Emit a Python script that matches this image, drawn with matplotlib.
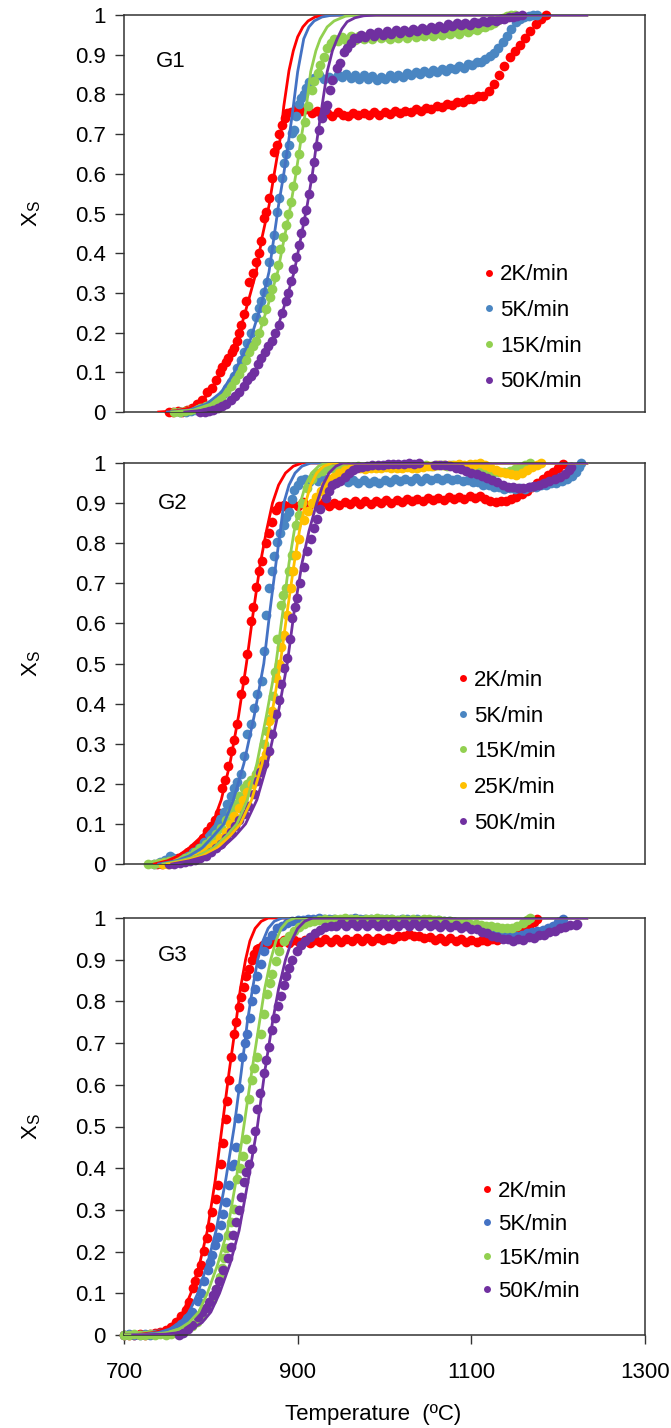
import numpy as np
import matplotlib
matplotlib.use("Agg")
import matplotlib.pyplot as plt
from matplotlib.lines import Line2D

plt.rcParams['font.family'] = ['Liberation Sans', 'DejaVu Sans']
plt.rcParams['mathtext.fontset'] = 'custom'
plt.rcParams['mathtext.rm'] = 'Liberation Sans'
plt.rcParams['mathtext.it'] = 'Liberation Sans:italic'
plt.rcParams['mathtext.default'] = 'regular'

# ---------------- data ----------------
rate_labels_4 = ['2K/min', '5K/min', '15K/min', '50K/min']
rate_labels_5 = ['2K/min', '5K/min', '15K/min', '25K/min', '50K/min']
panel_names = ['G1', 'G2', 'G3']
y_tick_labels = ['0', '0.1', '0.2', '0.3', '0.4', '0.5', '0.6', '0.7', '0.8', '0.9', '1']
x_ticks = [700, 900, 1100, 1300]

# ---- G1 experimental (T, Xs)
g1_red = [(752,0.0),(757,0.0),(762,0.003),(767,0.0),(772,0.005),(778,0.01),(784,0.02),(790,0.03),(796,0.05),(801,0.06),
          (806,0.08),(810,0.1),(813,0.114),(817,0.125),(820,0.135),(824,0.15),(827,0.16),(830,0.18),(832.5,0.198),(835,0.22),
          (838,0.248),(841,0.28),(844,0.328),(848,0.35),(852,0.379),(855.5,0.40),(858,0.43),(861,0.488),(863,0.504),(867,0.54),
          (871,0.589),(873,0.656),(876.5,0.673),(879,0.70),(882,0.723),(885,0.74),(888,0.752),
          (892,0.755),(898,0.763),(904,0.758),(910,0.762),(916,0.752),(922,0.758),(928,0.748),(934,0.754),(940,0.746),(946,0.755),
          (952,0.749),(958,0.745),(964,0.752),(970,0.748),(976,0.753),(982,0.747),(988,0.755),(994,0.748),(1000,0.756),(1006,0.750),
          (1012,0.757),(1018,0.753),(1024,0.759),(1030,0.755),(1036,0.762),(1042,0.758),(1048,0.766),(1054,0.762),(1060,0.770),
          (1066,0.768),(1072,0.776),(1078,0.774),(1084,0.782),(1090,0.780),(1096,0.789),(1102,0.788),(1108,0.796),(1114,0.797),
          (1120,0.808),(1126,0.825),(1132,0.848),(1138,0.872),(1144,0.893),(1150,0.91),(1156,0.925),(1162,0.943),(1168,0.96),
          (1174,0.978),(1180,0.99),(1186,1.0)]
g1_blue = [(765,0.0),(771,0.0),(777,0.003),(783,0.005),(790,0.01),(796,0.015),(802,0.02),(808,0.03),(814,0.045),(819,0.06),
           (823,0.075),(827,0.09),(830.6,0.11),(834.5,0.131),(838,0.15),(842,0.175),(846,0.2),(851.7,0.24),(855.5,0.261),(858,0.28),
           (861.3,0.303),(865.1,0.328),(867,0.379),(870,0.41),(872.7,0.446),(876.6,0.505),(879,0.54),(882.3,0.589),(884.2,0.626),
           (887,0.65),(890,0.673),(893.8,0.702),(895.7,0.71),(898,0.745),(901.5,0.777),(904,0.79),(907.2,0.802),(910,0.815),
           (913,0.832),(918.7,0.842),(924,0.848),(930,0.840),
           (936,0.845),(941,0.838),(946,0.850),(951,0.844),(956,0.851),(961,0.842),(966,0.849),(971,0.840),(976,0.848),(981,0.839),
           (986,0.846),(991,0.837),(996,0.845),(1001,0.839),(1006,0.848),(1011,0.842),(1016,0.850),(1021,0.845),(1026,0.853),
           (1031,0.848),(1036,0.856),(1041,0.851),(1046,0.859),(1051,0.854),(1056,0.861),(1061,0.856),(1066,0.864),(1071,0.859),
           (1076,0.867),(1081,0.863),(1086,0.871),(1091,0.867),(1096,0.876),(1101,0.873),(1106,0.882),(1111,0.881),(1116,0.890),
           (1121,0.896),(1126,0.905),(1131,0.918),(1136,0.932),(1141,0.948),(1146,0.965),(1151,0.982),(1156,0.99),(1161,0.996),
           (1166,0.998),(1171,1.0),(1176,1.0)]
g1_green = [(758,0.0),(764,0.0),(770,0.003),(776,0.005),(782,0.008),(788,0.01),(794,0.015),(800,0.02),(806,0.025),(812,0.035),
            (818,0.05),(823,0.065),(828,0.08),(832,0.095),(836,0.11),(840,0.13),(844,0.15),(848,0.165),(852,0.18),(856,0.2),
            (860,0.23),(864,0.26),(868,0.29),(871,0.31),(874,0.34),(877,0.37),(880,0.41),(883,0.44),(886,0.47),(889,0.50),
            (892,0.53),(895,0.57),(898,0.61),(901,0.65),(904,0.69),(908,0.73),(912,0.77),(916,0.81),(919,0.835),(923,0.855),
            (926,0.874),(930,0.895),(934,0.916),(938,0.93),(942,0.94),
            (946,0.934),(951,0.944),(956,0.936),(961,0.946),(966,0.938),(971,0.947),(976,0.939),(981,0.948),(986,0.940),(991,0.949),
            (996,0.941),(1001,0.947),(1006,0.940),(1011,0.950),(1016,0.942),(1021,0.951),(1026,0.943),(1031,0.952),(1036,0.945),
            (1041,0.953),(1046,0.946),(1051,0.954),(1056,0.947),(1061,0.955),(1066,0.949),(1071,0.957),(1076,0.951),(1081,0.959),
            (1086,0.953),(1091,0.961),(1096,0.957),(1101,0.964),(1106,0.962),(1111,0.969),(1116,0.970),(1121,0.976),(1126,0.98),
            (1131,0.987),(1136,0.993),(1141,0.997),(1146,1.0),(1150,1.0)]
g1_purple = [(788,0.0),(793,0.0),(798,0.003),(803,0.005),(808,0.01),(813,0.015),(818,0.02),(823,0.03),(828,0.04),(833,0.05),
             (838,0.065),(842,0.08),(846,0.09),(850,0.10),(854,0.12),(858,0.135),(862,0.15),(866,0.165),(870,0.18),(874,0.2),
             (878,0.22),(882,0.25),(886,0.28),(889,0.30),(892,0.33),(895,0.36),(898,0.39),(901,0.42),(904,0.45),(907,0.48),
             (910,0.51),(913,0.55),(916,0.59),(919,0.63),(922,0.67),(925,0.71),(928,0.74),(931,0.76),(934,0.773),(937,0.81),
             (940,0.836),(945,0.866),(949,0.878),(953,0.907),(957,0.916),(961,0.93),(965,0.941),(969,0.941),
             (973,0.950),(978,0.944),(983,0.954),(988,0.947),(993,0.957),(998,0.950),(1003,0.959),(1008,0.952),(1013,0.961),
             (1018,0.954),(1023,0.963),(1028,0.956),(1033,0.965),(1038,0.959),(1043,0.968),(1048,0.962),(1053,0.970),(1058,0.965),
             (1063,0.973),(1068,0.968),(1073,0.977),(1078,0.972),(1083,0.979),(1088,0.974),(1093,0.981),(1098,0.976),(1103,0.983),
             (1108,0.979),(1113,0.986),(1118,0.982),(1123,0.988),(1128,0.985),(1133,0.991),(1138,0.989),(1143,0.995),(1148,0.994),
             (1153,0.998),(1158,1.0)]

# ---- G1 model curves (T, Xs)
g1_red_fit = [(740,0),(760,0.003),(775,0.01),(790,0.03),(800,0.05),(811,0.10),(820,0.14),(831,0.185),(842,0.27),(852,0.35),
              (859,0.44),(867,0.52),(873,0.6),(880,0.69),(884,0.77),(890,0.86),(895,0.91),(900,0.945),(906,0.97),(912,0.985),
              (920,0.995),(930,0.999),(945,1.0),(1233,1.0)]
g1_blue_fit = [(750,0),(775,0.005),(795,0.02),(812,0.05),(827,0.10),(846,0.185),(858,0.27),(867,0.353),(878,0.521),(884,0.6),
               (890,0.689),(895,0.77),(900,0.857),(907,0.94),(913,0.97),(919,0.985),(928,0.995),(938,0.999),(955,1.0),(1233,1.0)]
g1_green_fit = [(755,0),(780,0.005),(800,0.02),(818,0.05),(834,0.10),(854,0.185),(866,0.27),(877,0.353),(892,0.521),(898,0.6),
                (904,0.689),(910,0.77),(915,0.857),(921,0.91),(926,0.94),(934,0.97),(942,0.985),(955,0.997),(970,1.0),(1233,1.0)]
g1_purple_fit = [(770,0),(795,0.005),(815,0.02),(833,0.05),(850,0.10),(873,0.185),(885,0.27),(896,0.353),(911,0.521),(917,0.6),
                 (922.5,0.689),(928,0.77),(934,0.857),(940,0.91),(945.5,0.94),(951,0.965),(957,0.983),(966,0.993),(976,0.998),
                 (990,1.0),(1233,1.0)]

# ---- G2 experimental
g2_red = [(738,0.0),(744,0.0),(750,0.005),(756,0.01),(762,0.015),(768,0.02),(774,0.03),(780,0.04),(786,0.05),(791,0.065),
          (796,0.083),(800,0.095),(805,0.11),(809.6,0.128),(813.4,0.19),(816,0.21),(819.2,0.245),(823,0.282),(827,0.31),
          (830.6,0.348),(834.5,0.423),(838,0.46),(842.2,0.523),(846,0.606),(849,0.64),(852,0.69),(855.6,0.73),(859.4,0.755),
          (863.3,0.80),(867.1,0.825),(870.9,0.854),(874.8,0.883),(879,0.892),(884,0.896),
          (888,0.891),(894,0.900),(900,0.894),(906,0.902),(912,0.893),(918,0.901),(924,0.895),(930,0.902),(936,0.893),(942,0.901),
          (948,0.896),(954,0.903),(960,0.897),(966,0.904),(972,0.898),(978,0.905),(984,0.899),(990,0.906),(996,0.900),(1002,0.907),
          (1008,0.901),(1014,0.908),(1020,0.903),(1026,0.909),(1032,0.904),(1038,0.911),(1044,0.905),(1050,0.912),(1056,0.907),
          (1062,0.913),(1068,0.908),(1074,0.915),(1080,0.910),(1086,0.916),(1092,0.911),(1098,0.918),(1104,0.912),(1110,0.917),
          (1116,0.910),(1122,0.906),(1128,0.903),(1134,0.906),(1140,0.904),(1146,0.91),(1152,0.916),(1158,0.922),(1164,0.93),
          (1170,0.94),(1176,0.95),(1182,0.96),(1188,0.97),(1194,0.978),(1200,0.988),(1206,0.998)]
g2_blue = [(735,0.0),(741,0.005),(747,0.01),(753,0.02),(757,0.015),(762,0.01),(768,0.015),(774,0.02),(780,0.03),(786,0.04),
           (792,0.055),(798,0.075),(803.8,0.091),(807,0.1),(811,0.112),(815,0.13),(819,0.149),(823,0.17),(826.7,0.19),(830,0.205),
           (834.5,0.224),(838,0.27),(842.2,0.323),(846,0.348),(849.9,0.39),(853.7,0.423),(859.4,0.456),(861,0.53),(863.3,0.622),
           (867.1,0.688),(870,0.73),(872.9,0.767),(876.7,0.804),(880,0.825),(884.4,0.846),(887,0.865),(890.1,0.879),(893,0.91),
           (895.9,0.933),(900,0.945),(903.5,0.957),(908,0.96),
           (913,0.952),(918,0.963),(923,0.955),(928,0.962),(934,0.951),(940,0.961),(946,0.954),(952,0.960),(958,0.952),(964,0.958),
           (970,0.951),(976,0.957),(982,0.950),(988,0.956),(994,0.950),(1000,0.957),(1006,0.952),(1012,0.960),(1018,0.954),
           (1024,0.961),(1030,0.955),(1036,0.962),(1042,0.956),(1048,0.962),(1054,0.957),(1060,0.963),(1066,0.957),(1072,0.962),
           (1078,0.957),(1084,0.961),(1090,0.955),(1096,0.958),(1102,0.952),(1108,0.952),(1114,0.946),(1120,0.944),(1126,0.940),
           (1132,0.941),(1138,0.936),(1144,0.938),(1150,0.934),(1156,0.938),(1162,0.936),(1168,0.941),(1174,0.940),(1180,0.945),
           (1186,0.944),(1192,0.950),(1198,0.950),(1204,0.956),(1210,0.96),(1216,0.968),(1220,0.978),(1224,0.99),(1226,1.0)]
g2_green = [(728,0.0),(734,0.0),(740,0.003),(746,0.005),(752,0.008),(758,0.01),(764,0.01),(770,0.015),(776,0.02),(782,0.03),
            (788,0.04),(794,0.05),(800,0.06),(806,0.075),(812,0.09),(818,0.11),(823,0.13),(828,0.15),(833,0.17),(838,0.19),
            (842,0.2),(846,0.21),(851.7,0.224),(857.4,0.249),(861.3,0.299),(865.1,0.332),(868.9,0.365),(872,0.42),(874,0.48),
            (876.5,0.56),(880.4,0.647),(883,0.67),(886.1,0.688),(890,0.73),(893.8,0.771),(897.6,0.846),(901,0.87),(905,0.9),
            (911,0.937),(916,0.96),(922,0.975),
            (928,0.98),(934,0.985),(940,0.987),(946,0.99),(952,0.988),(958,0.991),(964,0.99),(970,0.992),(976,0.99),(982,0.991),
            (988,0.993),(994,0.99),(1000,0.992),(1006,0.99),(1012,0.993),(1018,0.991),(1024,0.994),(1030,0.992),(1036,0.99),
            (1042,0.993),(1048,0.995),(1054,0.992),(1060,0.994),(1066,0.996),(1072,0.993),(1078,0.995),(1084,0.993),(1090,0.99),
            (1096,0.988),(1102,0.986),(1108,0.984),(1114,0.982),(1120,0.98),(1126,0.978),(1132,0.977),(1138,0.978),(1144,0.98),
            (1150,0.985),(1156,0.99),(1162,0.996),(1168,1.0)]
g2_yellow = [(745,0.0),(751,0.0),(757,0.003),(763,0.005),(769,0.008),(775,0.01),(781,0.015),(787,0.02),(793,0.03),(799,0.04),
             (805,0.05),(811,0.065),(817,0.08),(822,0.1),(827,0.12),(832,0.14),(837,0.16),(842,0.18),(847,0.2),(852,0.22),
             (856,0.24),(860,0.26),(863.2,0.274),(867.1,0.357),(870.9,0.381),(874.8,0.464),(878,0.5),(881,0.54),(884.4,0.572),
             (888,0.62),(892,0.688),(895,0.73),(897.6,0.771),(902,0.81),(907.2,0.858),(912,0.88),(916.8,0.9),(921,0.915),
             (926.4,0.929),(931,0.945),(936,0.96),
             (942,0.965),(948,0.975),(954,0.982),(960,0.985),(966,0.987),(972,0.988),(978,0.986),(984,0.987),(990,0.988),
             (996,0.987),(1002,0.989),(1008,0.988),(1014,0.987),(1020,0.988),(1026,0.99),(1032,0.988),(1038,0.987),(1044,0.99),
             (1050,0.992),(1056,0.993),(1062,0.995),(1068,0.994),(1074,0.996),(1080,0.995),(1086,0.997),(1092,0.996),(1098,0.998),
             (1104,0.997),(1110,0.999),(1116,0.995),(1122,0.99),(1128,0.983),(1134,0.978),(1140,0.975),(1146,0.972),(1152,0.97),
             (1158,0.975),(1164,0.982),(1170,0.99),(1176,0.996),(1180,1.0)]
g2_purple = [(752,0.0),(758,0.0),(764,0.003),(770,0.005),(776,0.008),(782,0.01),(788,0.015),(794,0.02),(800,0.03),(806,0.04),
             (812,0.05),(818,0.065),(823,0.08),(828,0.095),(833,0.11),(838.2,0.124),(843,0.145),(849.7,0.174),(853.7,0.207),
             (857,0.23),(861.3,0.249),(867.1,0.282),(870.9,0.323),(874.8,0.373),(878,0.41),(881,0.45),(884.4,0.489),(888.2,0.514),
             (891,0.56),(893.9,0.614),(897,0.64),(899.7,0.664),(903,0.7),(907,0.74),(911.2,0.78),(915,0.81),(918.8,0.838),
             (922,0.86),(926,0.885),(932.3,0.912),(936,0.93),(939.9,0.945),
             (944,0.95),(949,0.954),(954,0.965),(959,0.975),(964,0.982),(968,0.987),(974,0.99),(980,0.993),(986,0.995),(992,0.995),
             (998,0.996),(1004,0.997),(1010,0.998),(1016,0.997),(1022,0.998),(1028,0.999),(1034,0.998),(1040,0.999),(1058,0.995),
             (1064,0.996),(1070,0.995),(1076,0.993),(1082,0.988),(1088,0.985),(1094,0.98),(1100,0.976),(1106,0.972),(1112,0.968),
             (1118,0.963),(1124,0.958),(1130,0.952),(1136,0.945),(1142,0.941),(1148,0.939),(1154,0.937),(1160,0.938),(1166,0.94),
             (1172,0.943),(1178,0.946),(1184,0.95),(1190,0.955),(1196,0.96),(1202,0.965),(1208,0.972),(1212,0.982),(1215,0.99)]

# ---- G2 model curves: temperatures read at these Xs levels
g2_fit_levels = [0, 0.008, 0.02, 0.04, 0.07, 0.10, 0.16, 0.25, 0.37, 0.5, 0.63, 0.75, 0.83, 0.9, 0.945, 0.975, 0.992, 1.0, 1.0]
g2_red_fit_T = [735, 750, 762, 775, 790, 802, 812, 822, 832, 841, 849, 857, 864, 871, 878, 886, 895, 905, 1233]
g2_blue_fit_T = [740, 760, 775, 790, 803, 815, 826, 838, 850, 861, 868, 875, 880, 884, 890, 897, 905, 915, 1233]
g2_green_fit_T = [745, 765, 785, 803, 818, 830, 842, 853, 864, 875, 883, 890, 896, 903, 909, 916, 924, 932, 1233]
g2_yellow_fit_T = [750, 770, 790, 807, 822, 834, 847, 859, 870, 880, 888, 896, 902, 909, 915, 922, 930, 940, 1233]
g2_purple_fit_T = [755, 775, 795, 813, 828, 840, 853, 865, 877, 888, 896, 905, 913, 922, 929, 936, 944, 952, 1233]

# ---- G3 experimental
g3_red = [(700,0.0),(706,0.0),(712,0.0),(718,0.002),(724,0.0),(730,0.003),(736,0.005),(742,0.008),(748,0.012),(754,0.02),
          (760,0.03),(766,0.045),(771,0.06),(775,0.08),(778.9,0.113),(782,0.13),(785,0.15),(788.5,0.169),(792.3,0.201),
          (796.1,0.233),(799,0.26),(801.9,0.295),(805.7,0.327),(808,0.36),(811.5,0.41),(814,0.46),(817.2,0.517),(819,0.56),
          (821,0.611),(823,0.667),(826.8,0.722),(829,0.75),(832.5,0.786),(835,0.81),(838.3,0.834),(841,0.86),(844,0.877),
          (847,0.9),(849.8,0.913),(853,0.925),(855.5,0.929),(860,0.935),
          (866,0.938),(872,0.946),(878,0.940),(884,0.947),(890,0.941),(896,0.948),(902,0.942),(908,0.948),(914,0.941),(920,0.947),
          (926,0.942),(932,0.949),(938,0.942),(944,0.950),(950,0.943),(956,0.950),(962,0.944),(968,0.951),(974,0.945),(980,0.952),
          (986,0.946),(992,0.953),(998,0.948),(1004,0.953),(1010,0.950),(1016,0.956),(1022,0.957),(1028,0.962),(1034,0.958),
          (1040,0.956),(1046,0.951),(1052,0.955),(1058,0.948),(1064,0.953),(1070,0.946),(1076,0.951),(1082,0.945),(1088,0.950),
          (1094,0.943),(1100,0.948),(1106,0.943),(1112,0.948),(1118,0.944),(1124,0.949),(1130,0.948),(1136,0.952),(1142,0.96),
          (1148,0.967),(1154,0.972),(1160,0.977),(1166,0.982),(1172,0.99),(1176,0.997)]
g3_blue = [(700,0.0),(706,0.002),(712,0.0),(718,0.0),(724,0.003),(730,0.0),(736,0.002),(742,0.005),(748,0.008),(754,0.012),
           (760,0.018),(766,0.027),(772,0.04),(778,0.055),(784.7,0.081),(789,0.1),(792,0.13),(796.2,0.157),(799,0.175),
           (801.9,0.193),(805,0.215),(807.7,0.236),(811.5,0.264),(814,0.29),(817.2,0.319),(821,0.36),(824.9,0.406),(827,0.41),
           (829,0.45),(831,0.52),(832.5,0.592),(836.4,0.667),(839,0.7),(842.1,0.722),(845,0.76),(847.9,0.802),(851,0.83),
           (853.6,0.861),(857.5,0.889),(861.3,0.92),(865.1,0.944),(870,0.96),(876.6,0.976),(882,0.982),(888,0.988),(894,0.993),
           (900,0.995),
           (906,0.996),(912,0.998),(918,0.997),(924,0.999),(930,0.998),(936,0.997),(942,0.998),(948,0.996),(954,0.998),(960,0.997),
           (966,0.999),(972,0.998),(978,0.997),(984,0.998),(990,0.996),(996,0.998),(1002,0.997),(1008,0.998),(1014,0.996),
           (1020,0.997),(1026,0.998),(1032,0.996),(1038,0.997),(1044,0.995),(1050,0.996),(1056,0.994),(1062,0.995),(1068,0.993),
           (1074,0.992),(1080,0.99),(1086,0.988),(1092,0.985),(1098,0.982),(1104,0.978),(1110,0.975),(1116,0.972),(1122,0.968),
           (1128,0.965),(1134,0.962),(1140,0.96),(1146,0.958),(1152,0.958),(1158,0.96),(1164,0.963),(1170,0.966),(1176,0.968),
           (1182,0.972),(1188,0.977),(1194,0.982),(1200,0.99),(1206,0.997)]
g3_green = [(700,0.0),(706,0.0),(712,0.002),(718,0.0),(724,0.0),(730,0.002),(736,0.0),(742,0.003),(748,0.0),(754,0.002),
            (760,0.005),(766,0.01),(772,0.015),(778,0.022),(784,0.03),(790,0.045),(796,0.065),(801,0.085),(806,0.11),(810,0.14),
            (812.5,0.16),(815.2,0.184),(817.2,0.208),(820,0.24),(823,0.27),(826.8,0.303),(830.6,0.374),(834,0.4),(837,0.43),
            (840.2,0.469),(844,0.565),(847.9,0.612),(850,0.64),(853.6,0.667),(857.5,0.722),(861.3,0.77),(865.1,0.818),(868,0.845),
            (870.9,0.865),(874.7,0.897),(879,0.92),(884.3,0.944),(890,0.958),(895.8,0.968),(901,0.978),(907,0.985),(913,0.99),
            (919,0.992),(925,0.995),(931,0.997),(937,0.996),(943,0.998),(949,0.997),(955,0.999),(961,0.997),(967,0.998),(973,0.996),
            (979,0.998),(985,0.997),(991,0.999),(997,0.998),(1003,0.997),(1009,0.998),(1015,0.996),(1021,0.997),(1027,0.995),
            (1033,0.997),(1039,0.996),(1045,0.998),(1051,0.997),(1057,0.996),(1063,0.995),(1069,0.993),(1075,0.992),(1081,0.99),
            (1087,0.989),(1093,0.988),(1099,0.986),(1105,0.985),(1111,0.983),(1117,0.982),(1123,0.98),(1129,0.978),(1135,0.977),
            (1141,0.976),(1147,0.977),(1153,0.98),(1159,0.988),(1164,0.995),(1167,1.0)]
g3_purple = [(763.5,0.0),(768,0.005),(773.2,0.014),(778,0.025),(784.7,0.042),(790,0.055),(794,0.065),(798.1,0.078),(802,0.095),
             (806,0.11),(809.6,0.129),(814,0.155),(819.2,0.184),(823,0.21),(826,0.24),(828.8,0.272),(832,0.3),(835,0.33),
             (838.3,0.366),(841,0.39),(844,0.41),(847.9,0.446),(851,0.49),(853.6,0.541),(857,0.58),(861.3,0.628),(864,0.66),
             (867,0.69),(870.9,0.731),(874,0.76),(877,0.79),(880.4,0.814),(884,0.84),(887,0.86),(890,0.881),(894,0.9),
             (899.6,0.921),(904,0.935),(909,0.944),(914,0.955),(920,0.965),(926,0.972),(932,0.978),(938,0.982),
             (944,0.980),(950,0.988),(956,0.981),(962,0.989),(968,0.982),(974,0.988),(980,0.981),(986,0.989),(992,0.982),(998,0.988),
             (1004,0.981),(1010,0.988),(1016,0.982),(1022,0.988),(1028,0.981),(1034,0.988),(1040,0.981),(1046,0.987),(1052,0.980),
             (1058,0.986),(1064,0.979),(1070,0.985),(1076,0.978),(1082,0.983),(1088,0.976),(1094,0.980),(1100,0.973),(1106,0.973),
             (1112,0.966),(1118,0.963),(1124,0.956),(1130,0.955),(1136,0.949),(1142,0.950),(1148,0.946),(1154,0.950),(1160,0.948),
             (1166,0.954),(1172,0.953),(1178,0.960),(1184,0.960),(1190,0.967),(1196,0.970),(1202,0.977),(1208,0.979),(1214,0.984),
             (1220,0.984),(1222,0.986)]

# ---- G3 model curves
g3_fit_levels = [0, 0.002, 0.006, 0.015, 0.03, 0.055, 0.10, 0.17, 0.25, 0.37, 0.5, 0.63, 0.75, 0.83, 0.9, 0.945, 0.975, 0.992, 1.0, 1.0]
g3_red_fit_T = [700, 720, 735, 748, 758, 768, 777, 787, 796, 805, 813, 821, 829, 834, 840, 845, 851, 858, 866, 1233]
g3_blue_fit_T = [700, 725, 740, 754, 765, 775, 785, 796, 806, 817, 827, 835, 842, 848, 854, 860, 866, 873, 882, 1233]
g3_green_fit_T = [700, 735, 750, 764, 775, 786, 796, 808, 819, 829, 838, 847, 856, 862, 869, 875, 881, 888, 897, 1233]
g3_purple_fit_T = [710, 748, 764, 778, 790, 800, 810, 822, 832.5, 843, 853.6, 862, 871, 878, 886, 893, 900, 908, 917, 1233]

# ---------------- styling ----------------
RED = '#FF0000'
BLUE = '#4A86C2'
BLUE_LINE = '#4472C4'
GREEN = '#92D050'
YELLOW = '#FFC000'
PURPLE = '#7030A0'
FS = 16

def unzip(pts):
    return [p[0] for p in pts], [p[1] for p in pts]

panels = [
    dict(name='G1', rect=[124/671, 1016/1428, 521/671, 397/1428],
         markers=[(g1_red, RED), (g1_blue, BLUE), (g1_green, GREEN), (g1_purple, PURPLE)],
         fits=[(unzip(g1_red_fit), RED), (unzip(g1_blue_fit), BLUE_LINE), (unzip(g1_green_fit), GREEN),
               (unzip(g1_purple_fit), PURPLE)],
         labels=rate_labels_4, colors=[RED, BLUE, GREEN, PURPLE],
         leg=(0.690, 0.372, 0.66), gpos=(0.061, 0.882)),
    dict(name='G2', rect=[124/671, 564/1428, 521/671, 401/1428],
         markers=[(g2_red, RED), (g2_blue, BLUE), (g2_green, GREEN), (g2_yellow, YELLOW), (g2_purple, PURPLE)],
         fits=[((g2_red_fit_T, g2_fit_levels), RED), ((g2_blue_fit_T, g2_fit_levels), BLUE_LINE),
               ((g2_green_fit_T, g2_fit_levels), GREEN), ((g2_yellow_fit_T, g2_fit_levels), YELLOW),
               ((g2_purple_fit_T, g2_fit_levels), PURPLE)],
         labels=rate_labels_5, colors=[RED, BLUE, GREEN, YELLOW, PURPLE],
         leg=(0.640, 0.484, 0.66), gpos=(0.065, 0.900)),
    dict(name='G3', rect=[124/671, 93/1428, 521/671, 417/1428],
         markers=[(g3_red, RED), (g3_blue, BLUE_LINE), (g3_green, GREEN), (g3_purple, PURPLE)],
         fits=[((g3_red_fit_T, g3_fit_levels), RED), ((g3_blue_fit_T, g3_fit_levels), BLUE_LINE),
               ((g3_green_fit_T, g3_fit_levels), GREEN), ((g3_purple_fit_T, g3_fit_levels), PURPLE)],
         labels=rate_labels_4, colors=[RED, BLUE_LINE, GREEN, PURPLE],
         leg=(0.686, 0.370, 0.56), gpos=(0.065, 0.911)),
]

fig = plt.figure(figsize=(6.71, 14.28), dpi=100)

for i, p in enumerate(panels):
    ax = fig.add_axes(p['rect'])
    for pts, c in p['markers']:
        T, X = unzip(pts)
        ax.plot(T, X, 'o', ms=7.0, mew=0, color=c, clip_on=False, zorder=2)
    for (T, X), c in p['fits']:
        ax.plot(T, X, '-', lw=2.0, color=c, zorder=3)
    ax.set_xlim(700, 1300)
    ax.set_ylim(0, 1)
    ax.set_yticks(np.linspace(0, 1, 11))
    ax.set_yticklabels(y_tick_labels)
    ax.set_xticks(x_ticks)
    for s in ax.spines.values():
        s.set_color('#333333')
        s.set_linewidth(1.1)
    ax.tick_params(axis='y', direction='out', length=6.5, width=1.0, color='#333333',
                   labelsize=FS, pad=6.5)
    if i == 2:
        ax.tick_params(axis='x', direction='out', length=6.5, width=1.0, color='#333333',
                       labelsize=FS, pad=13)
        ax.set_xticklabels([str(t) for t in x_ticks])
        ax.set_xlabel('Temperature  (ºC)', fontsize=FS)
        ax.xaxis.set_label_coords(0.478, -0.165)
    else:
        ax.tick_params(axis='x', length=0, labelbottom=False)
    ax.set_ylabel(r'$X_S$', fontsize=FS)
    ax.yaxis.set_label_coords(-0.155, 0.5)
    ax.text(p['gpos'][0], p['gpos'][1], p['name'], transform=ax.transAxes,
            fontsize=FS, ha='left', va='center')
    handles = [Line2D([], [], ls='none', marker='o', ms=5, mew=0, color=c) for c in p['colors']]
    lx, ly, lsp = p['leg']
    ax.legend(handles, p['labels'], loc='upper left', bbox_to_anchor=(lx, ly),
              frameon=False, fontsize=FS, handlelength=0.5, handletextpad=0.25,
              borderpad=0, borderaxespad=0, labelspacing=lsp)

fig.savefig('out.png', dpi=100)
